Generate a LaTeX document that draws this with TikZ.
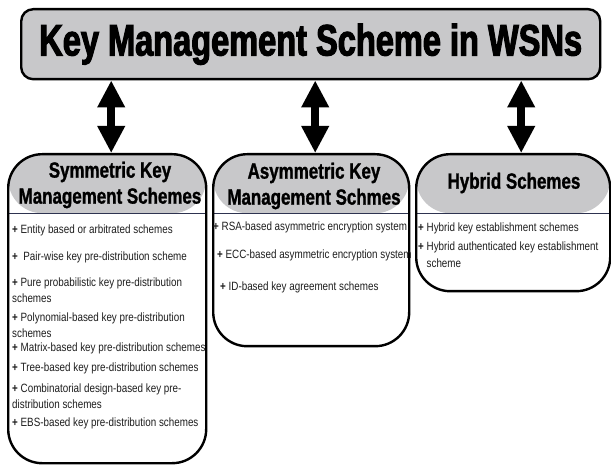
\documentclass[tikz,border=0pt]{standalone}
\usepackage{fontspec}
\setmainfont{Liberation Sans}
\newfontfamily\narrowfont[FakeStretch=0.82]{Liberation Sans}
\newfontfamily\headfont[FakeStretch=0.77,BoldFeatures={FakeBold=1.2}]{Liberation Sans}
\newfontfamily\titlefont[FakeStretch=0.74,BoldFeatures={FakeBold=2.5}]{Liberation Sans}
\usepackage{tikz}
\usetikzlibrary{
  positioning,
  arrows.meta
}
\definecolor{headgray}{HTML}{C8C8CA}
\definecolor{rulecol}{HTML}{2E3350}
\definecolor{itemcol}{HTML}{1E1E1E}
\tikzset{
  panel/.style={draw=black,line width=2.4pt,fill=white,rounded corners=34pt,anchor=north west,inner sep=0pt,
    path picture={
      \fill[headgray] (path picture bounding box.north west) rectangle ([yshift=-59pt]path picture bounding box.north east);
      \draw[rulecol,line width=0.9pt] ([yshift=-59pt]path picture bounding box.north west) -- ([yshift=-59pt]path picture bounding box.north east);
    }},
  headtxt/.style={align=center,inner sep=0pt,font=\headfont\bfseries\fontsize{22}{26}\selectfont},
  item/.style={anchor=west,inner sep=0pt,align=left,text=itemcol,font=\narrowfont\fontsize{12}{16}\selectfont},
  bigarrow/.style={line width=8pt,{Triangle[width=26pt,length=27pt]}-{Triangle[width=26pt,length=27pt]}}
}

\begin{document}
\begin{tikzpicture}[x=1pt,y=-1pt]
		\useasboundingbox (0,0) rectangle (611,465);
		% title
		\node [draw=black,line width=2.4pt,fill=headgray,rounded corners=12pt,anchor=north west,inner sep=0pt,
		  minimum width=579pt,minimum height=70pt,font=\titlefont\bfseries\fontsize{44}{44}\selectfont] (title) at (20,8) {Key Management Scheme in WSNs};
		% the three groups
		\node [panel,minimum width=198pt,minimum height=309pt] (sym) at (7,153) {};
		\node [panel,minimum width=196pt,minimum height=192pt] (asym) at (212,153) {};
		\node [panel,minimum width=194pt,minimum height=137pt] (hyb) at (415,153) {};
		\foreach \b/\dx in {sym/4,asym/4,hyb/8}{
		    \draw [bigarrow] ([xshift=\dx pt]\b.north |- title.south) -- ([xshift=\dx pt]\b.north);
		}
		\node [headtxt] (symhead) at (110,185) {Symmetric Key\\Management Schemes};
		\node [headtxt] (asymhead) at (314,186) {Asymmetric Key\\Management Schmes};
		\node [headtxt] (hybhead) at (514,183) {Hybrid Schemes};
		% items
		\foreach \y/\t [count=\i] in {230/{\textbf{+} Entity based or arbitrated schemes},
		    257/{\textbf{+}\ \ Pair-wise key pre-distribution scheme},
		    290/{\textbf{+} Pure probabilistic key pre-distribution\\schemes},
		    325/{\textbf{+} Polynomial-based key pre-distribution\\schemes},
		    348/{\textbf{+} Matrix-based key pre-distribution schemes},
		    368/{\textbf{+} Tree-based key pre-distribution schemes},
		    396/{\textbf{+} Combinatorial design-based key pre-\\distribution schemes},
		    423/{\textbf{+} EBS-based key pre-distribution schemes}}{
		    \node [item] (sym\i) at (12,\y) {\t};
		}
		\node [item] (asym1) at (213,227) {\textbf{+} RSA-based asymmetric encryption system};
		\node [item] (asym2) at (217,255) {\textbf{+} ECC-based asymmetric encryption system};
		\node [item] (asym3) at (220,287) {\textbf{+} ID-based key agreement schemes};
		\node [item] (hyb1) at (418,228) {\textbf{+} Hybrid key establishment schemes};
		\node [item,font=\narrowfont\fontsize{12}{17}\selectfont] (hyb2) at (418,254.5) {\textbf{+} Hybrid authenticated key establishment\\\phantom{\textbf{+} }scheme};
	\end{tikzpicture}
\end{document}
